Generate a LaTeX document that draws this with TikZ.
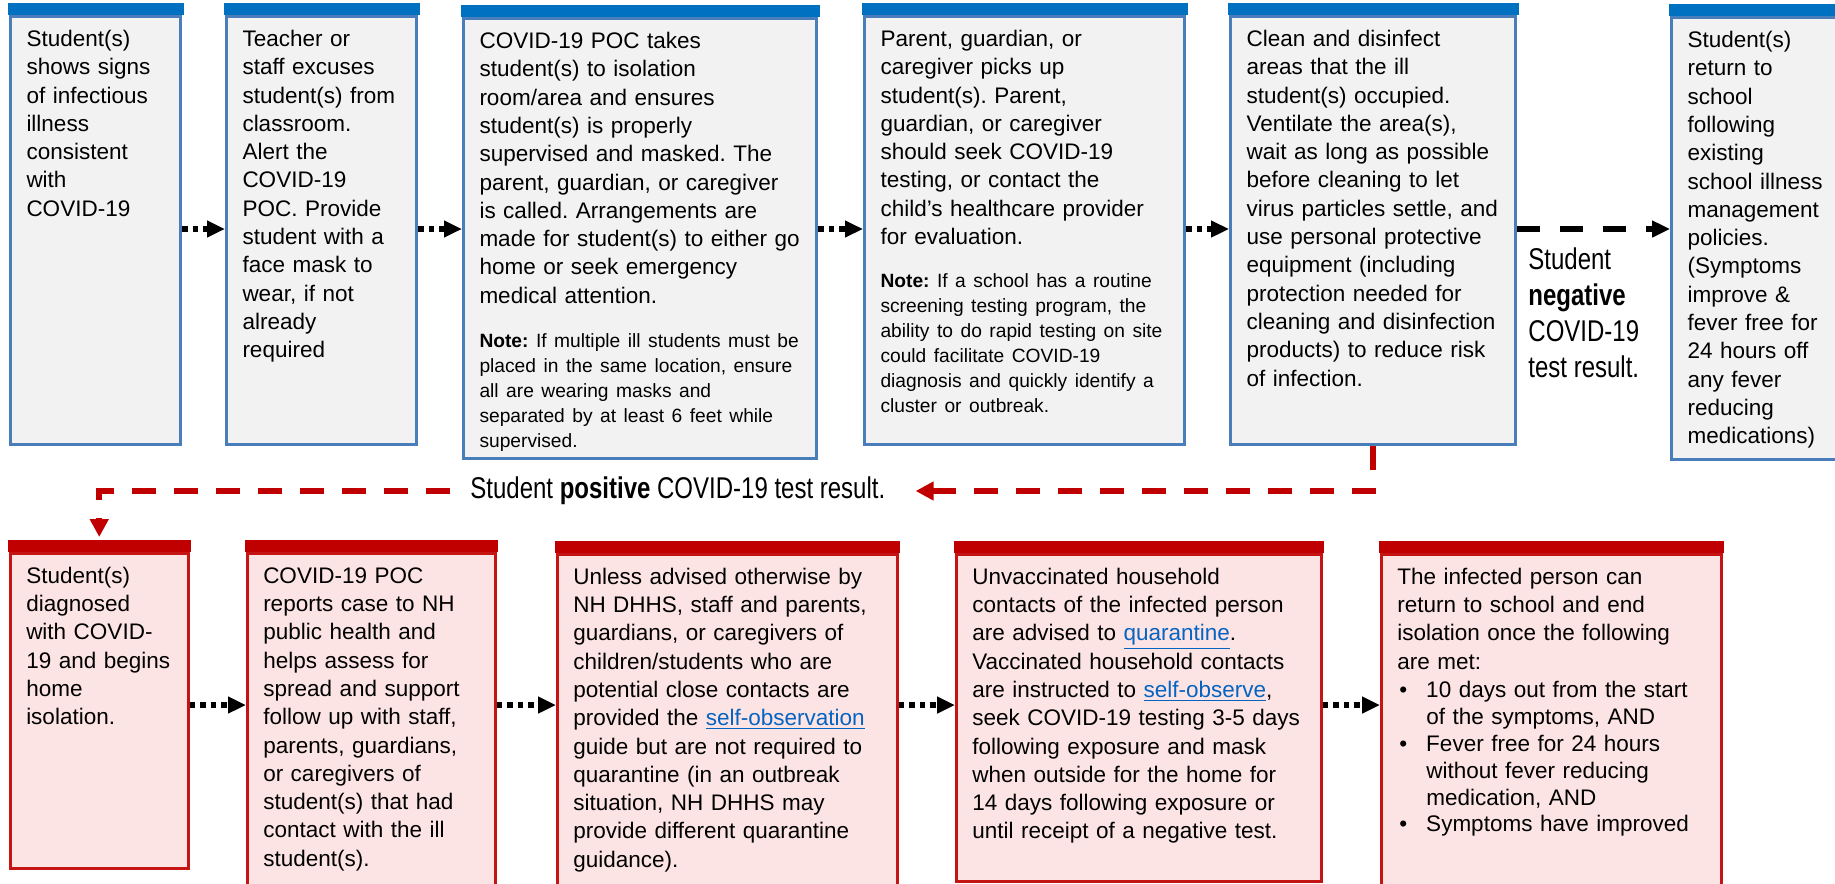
\documentclass[tikz,border=0pt]{standalone}
\usepackage{fontspec}
\setmainfont{Liberation Sans}
\newfontfamily\narrowfont[FakeStretch=0.8]{Liberation Sans}
\usetikzlibrary{arrows.meta}
\frenchspacing
\hyphenpenalty=10000
\definecolor{barblue}{HTML}{0070C0}
\definecolor{edgeblue}{HTML}{4A7EBB}
\definecolor{fillgray}{HTML}{F2F2F2}
\definecolor{barred}{HTML}{C00000}
\definecolor{fillpink}{HTML}{FDE4E4}
\definecolor{linkblue}{HTML}{0563C1}
\newcommand{\Lnk}[1]{\textcolor{linkblue}{\underline{#1}}}
\newcommand{\NoteFont}{\fontsize{9.6}{12.5}\selectfont}
\newcommand{\ItemFont}{\fontsize{11.25}{13.4}\selectfont}

\tikzset{
  flowbox/.style={draw, anchor=north west, align=left, inner xsep=8pt, inner ysep=5pt,
    text height=10pt, font=\fontsize{11.25}{14.15}\selectfont},
  topbox/.style={flowbox, draw=edgeblue, fill=fillgray, line width=1.5pt},
  lowbox/.style={flowbox, draw=barred!92!white, fill=fillpink, line width=1.25pt},
  boxdim/.style 2 args={text width=#1, text depth=#2},
  lblfont/.style={font=\narrowfont\fontsize{15}{18}\selectfont},
  dotarrow/.style={line width=2.75pt, dash pattern=on 2.75pt off 2.5pt,
    -{Triangle[length=9pt,width=8pt]}},
  dasharrow/.style={line width=2.75pt, dash pattern=on 11.5pt off 10pt,
    -{Triangle[length=9pt,width=8pt]}},
  reddash/.style={draw=barred, line width=3pt, dash pattern=on 12pt off 9pt,
    -{Triangle[length=9pt,width=9pt]}}
}

\begin{document}
\begin{tikzpicture}[x=0.5pt, y=-0.5pt]

  \useasboundingbox (0,0) rectangle (1835,883);
  \coordinate (rowa) at (0,229);
  \coordinate (rowb) at (0,705);

  %% top row
  \node[topbox, boxdim={69pt}{194pt}] (b1) at (9,15)
    {Student(s)\\shows signs\\of infectious\\illness\\consistent\\with\\COVID-19};
  \node[topbox, boxdim={79pt}{194pt}] (b2) at (225,15)
    {Teacher or\\staff excuses\\student(s) from\\classroom.\\Alert the\\COVID-19\\POC. Provide\\student with a\\face mask to\\wear, if not\\already\\required};
  \node[topbox, boxdim={160.5pt}{200pt}] (b3) at (462,17)
    {COVID-19 POC takes\\student(s) to isolation\\room/area and ensures\\student(s) is properly\\supervised and masked. The\\parent, guardian, or caregiver\\is called. Arrangements are\\made for student(s) to either go\\home or seek emergency\\medical attention.\par
     \vspace{9.5pt}{\NoteFont\textbf{Note:} If multiple ill students must be\\placed in the same location, ensure\\all are wearing masks and\\separated by at least 6 feet while\\supervised.\par}};
  \node[topbox, boxdim={144pt}{194pt}] (b4) at (863,15)
    {Parent, guardian, or\\caregiver picks up\\student(s). Parent,\\guardian, or caregiver\\should seek COVID-19\\testing, or contact the\\child’s healthcare provider\\for evaluation.\par
     \vspace{9pt}{\NoteFont\textbf{Note:} If a school has a routine\\screening testing program, the\\ability to do rapid testing on site\\could facilitate COVID-19\\diagnosis and quickly identify a\\cluster or outbreak.\par}};
  \node[topbox, boxdim={126.5pt}{194pt}] (b5) at (1229,15)
    {Clean and disinfect\\areas that the ill\\student(s) occupied.\\Ventilate the area(s),\\wait as long as possible\\before cleaning to let\\virus particles settle, and\\use personal protective\\equipment (including\\protection needed for\\cleaning and disinfection\\products) to reduce risk\\of infection.};
  \node[topbox, boxdim={84pt}{201pt}] (b6) at (1670,16)
    {Student(s)\\return to\\school\\following\\existing\\school illness\\management\\policies.\\(Symptoms\\improve \&\\fever free for\\24 hours off\\any fever\\reducing\\medications)};

  %% bottom row
  \node[lowbox, boxdim={73pt}{137.5pt}] (b7) at (9,552)
    {Student(s)\\diagnosed\\with COVID-\\19 and begins\\home\\isolation.};
  \node[lowbox, boxdim={108pt}{154pt}] (b8) at (246,552)
    {COVID-19 POC\\reports case to NH\\public health and\\helps assess for\\spread and support\\follow up with staff,\\parents, guardians,\\or caregivers of\\student(s) that had\\contact with the ill\\student(s).};
  \node[lowbox, boxdim={154pt}{154pt}] (b9) at (556,553)
    {Unless advised otherwise by\\NH DHHS, staff and parents,\\guardians, or caregivers of\\children/students who are\\potential close contacts are\\provided the \Lnk{self-observation}\\guide but are not required to\\quarantine (in an outbreak\\situation, NH DHHS may\\provide different quarantine\\guidance).};
  \node[lowbox, boxdim={166.5pt}{143.5pt}] (b10) at (955,553)
    {Unvaccinated household\\contacts of the infected person\\are advised to \Lnk{quarantine}.\\Vaccinated household contacts\\are instructed to \Lnk{self-observe},\\seek COVID-19 testing 3-5 days\\following exposure and mask\\when outside for the home for\\14 days following exposure or\\until receipt of a negative test.};
  \node[lowbox, boxdim={154pt}{154pt}] (b11) at (1380,553)
    {The infected person can\\return to school and end\\isolation once the following\\are met:\par
     \vspace{1pt}{\ItemFont
     \makebox[14.5pt][l]{\hspace{1pt}\textbullet}10 days out from the start\\
     \hspace*{14.5pt}of the symptoms, AND\\
     \makebox[14.5pt][l]{\hspace{1pt}\textbullet}Fever free for 24 hours\\
     \hspace*{14.5pt}without fever reducing\\
     \hspace*{14.5pt}medication, AND\\
     \makebox[14.5pt][l]{\hspace{1pt}\textbullet}Symptoms have improved\par}};

  %% coloured bars on top of the boxes
  \foreach \b in {b1,b2,b3,b4,b5,b6}
    \fill[barblue] ([xshift=-0.75pt]\b.north west) rectangle ([xshift=0.75pt,yshift=6pt]\b.north east);
  \foreach \b in {b7,b8,b9,b10,b11}
    \fill[barred] ([xshift=-0.6pt]\b.north west) rectangle ([xshift=0.6pt,yshift=6pt]\b.north east);

  %% result labels
  \node[lblfont, align=left, anchor=north west, inner sep=0pt] (neglbl) at (1528,247)
    {Student\\\textbf{negative}\\COVID-19\\test result.};
  \node[lblfont, anchor=west, inner sep=0pt] (poslbl) at (470,491)
    {Student \textbf{positive} COVID-19 test result.};

  %% connectors
  \draw[dotarrow] (b1.east |- rowa) -- (b2.west |- rowa);
  \draw[dotarrow] (b2.east |- rowa) -- (b3.west |- rowa);
  \draw[dotarrow] (b3.east |- rowa) -- (b4.west |- rowa);
  \draw[dotarrow] (b4.east |- rowa) -- (b5.west |- rowa);
  \draw[dasharrow] (b5.east |- rowa) -- (b6.west |- rowa); % negative
  \draw[reddash] (b5.south) |- ([xshift=15pt]poslbl.east); % positive
  \draw[reddash] ([xshift=-10pt]poslbl.west) -| ([yshift=7.5pt]b7.north);
  \draw[dotarrow] (b7.east |- rowb) -- (b8.west |- rowb);
  \draw[dotarrow] (b8.east |- rowb) -- (b9.west |- rowb);
  \draw[dotarrow] (b9.east |- rowb) -- (b10.west |- rowb);
  \draw[dotarrow] (b10.east |- rowb) -- (b11.west |- rowb);
\end{tikzpicture}
\end{document}
